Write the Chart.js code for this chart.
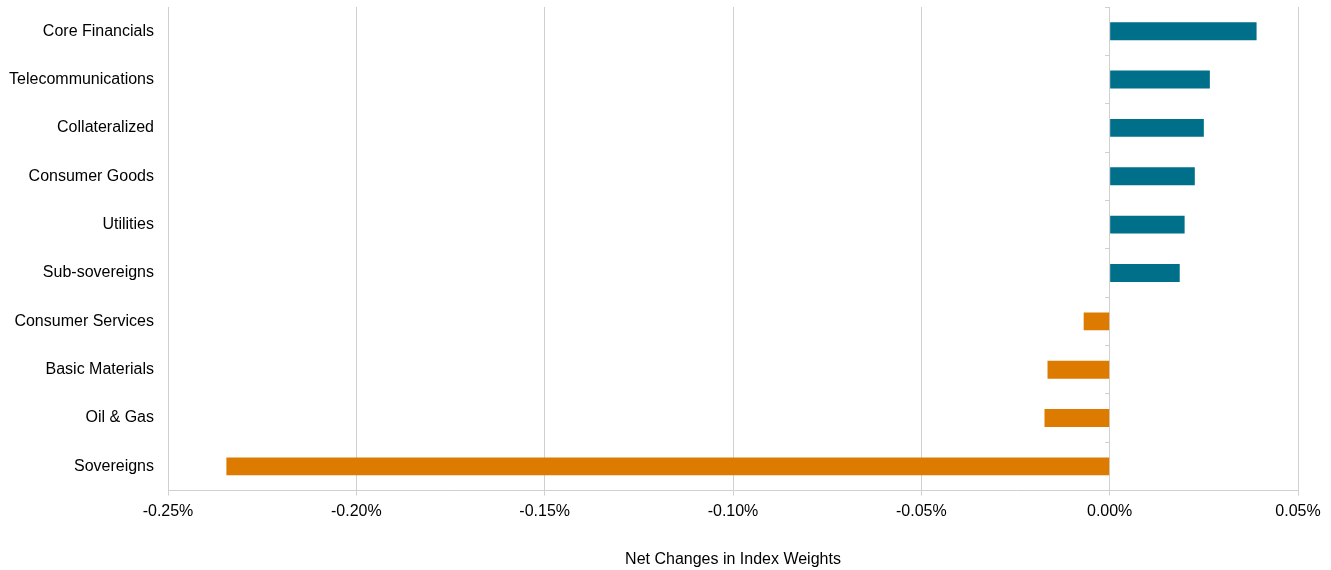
<!DOCTYPE html>
<html>
<head>
<meta charset="utf-8">
<script src="https://cdn.jsdelivr.net/npm/chart.js@4"></script>
<style>
  html, body { margin: 0; padding: 0; background: #fff; }
  #wrap { width: 1331px; height: 570px; position: relative; }
</style>
</head>
<body>
<div id="wrap"><canvas id="c"></canvas></div>
<script>
const categories = ["Core Financials", "Telecommunications", "Collateralized", "Consumer Goods", "Utilities", "Sub-sovereigns", "Consumer Services", "Basic Materials", "Oil & Gas", "Sovereigns"];
const netChange = [0.0390, 0.0266, 0.0250, 0.0226, 0.0199, 0.0186, -0.0069, -0.0165, -0.0173, -0.2345];
const xTicks = [-0.25, -0.20, -0.15, -0.10, -0.05, 0.00, 0.05];
const xTitle = "Net Changes in Index Weights";

const TEAL = "rgb(0,111,138)";
const ORANGE = "rgb(221,122,0)";
const GRID = "#d0d0d0";
const FONT = { family: "'Liberation Sans', Arial, sans-serif", size: 16 };

new Chart(document.getElementById("c"), {
  type: "bar",
  data: {
    labels: categories,
    datasets: [{
      data: netChange,
      backgroundColor: netChange.map(v => v >= 0 ? TEAL : ORANGE),
      borderWidth: 0,
      categoryPercentage: 1,
      barPercentage: 0.37,
      yAxisID: "y"
    }]
  },
  options: {
    indexAxis: "y",
    responsive: true,
    maintainAspectRatio: false,
    animation: false,
    layout: { padding: { top: 7, right: 33, bottom: 1, left: 0 } },
    plugins: { legend: { display: false }, tooltip: { enabled: false } },
    scales: {
      x: {
        type: "linear",
        min: xTicks[0],
        max: xTicks[xTicks.length - 1],
        afterBuildTicks: (axis) => { axis.ticks = xTicks.map(v => ({ value: v })); },
        ticks: {
          color: "#000",
          font: FONT,
          padding: 6,
          callback: (v) => Number(v).toFixed(2) + "%"
        },
        grid: { color: GRID, lineWidth: 1, tickLength: 5, drawTicks: true },
        border: { display: true, color: GRID },
        title: { display: true, text: xTitle, color: "#000", font: FONT, padding: { top: 23, bottom: 0 } }
      },
      y: {
        type: "category",
        position: "left",
        offset: true,
        ticks: { color: "#000", font: FONT, padding: 14 },
        grid: { display: false, drawTicks: false },
        border: { display: false },
        afterFit: (scale) => {
          scale.width = 168;
          scale.paddingTop = 0;
          scale.paddingBottom = 0;
        }
      },
      y2: {
        type: "category",
        labels: categories,
        position: { x: 0 },
        offset: true,
        ticks: { display: false },
        grid: { offset: true, drawOnChartArea: false, drawTicks: true, tickLength: 4, color: GRID },
        border: { display: true, color: GRID, width: 1 }
      }
    }
  }
});
</script>
</body>
</html>
